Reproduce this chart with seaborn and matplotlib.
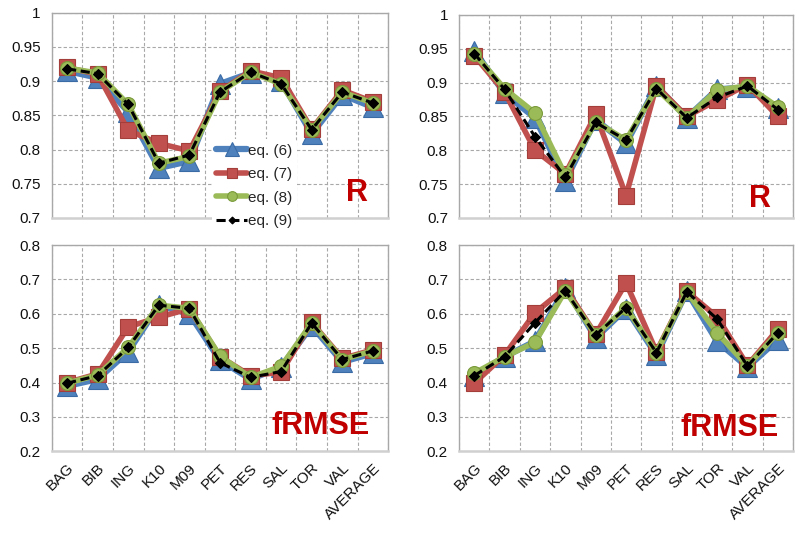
import numpy as np
import pandas as pd
import matplotlib
matplotlib.use("Agg")
import matplotlib.pyplot as plt
import seaborn as sns
from matplotlib.ticker import FuncFormatter, MultipleLocator

sns.set_style("white")
plt.rcParams['font.family'] = ['Liberation Sans', 'DejaVu Sans']

cats = ['BAG', 'BIB', 'ING', 'K10', 'M09', 'PET', 'RES', 'SAL', 'TOR', 'VAL', 'AVERAGE']
series_names = ['eq. (6)', 'eq. (7)', 'eq. (8)', 'eq. (9)']

r_left_eq6 = [0.915, 0.905, 0.855, 0.773, 0.783, 0.896, 0.912, 0.900, 0.823, 0.880, 0.862]
r_left_eq7 = [0.920, 0.910, 0.828, 0.809, 0.798, 0.885, 0.915, 0.905, 0.830, 0.887, 0.870]
r_left_eq8 = [0.919, 0.912, 0.866, 0.780, 0.790, 0.884, 0.913, 0.896, 0.829, 0.884, 0.868]
r_left_eq9 = [0.918, 0.911, 0.866, 0.780, 0.792, 0.884, 0.913, 0.896, 0.829, 0.884, 0.868]

r_right_eq6 = [0.947, 0.884, 0.848, 0.755, 0.845, 0.810, 0.895, 0.848, 0.890, 0.893, 0.862]
r_right_eq7 = [0.940, 0.886, 0.800, 0.765, 0.853, 0.733, 0.895, 0.850, 0.874, 0.897, 0.850]
r_right_eq8 = [0.943, 0.891, 0.855, 0.763, 0.842, 0.815, 0.891, 0.848, 0.889, 0.895, 0.864]
r_right_eq9 = [0.943, 0.890, 0.820, 0.760, 0.841, 0.815, 0.891, 0.848, 0.878, 0.895, 0.860]

f_left_eq6 = [0.390, 0.410, 0.490, 0.625, 0.600, 0.465, 0.410, 0.445, 0.565, 0.460, 0.485]
f_left_eq7 = [0.400, 0.425, 0.562, 0.590, 0.615, 0.475, 0.420, 0.430, 0.575, 0.470, 0.495]
f_left_eq8 = [0.398, 0.422, 0.502, 0.625, 0.616, 0.477, 0.415, 0.447, 0.573, 0.467, 0.492]
f_left_eq9 = [0.398, 0.420, 0.502, 0.625, 0.616, 0.458, 0.415, 0.432, 0.573, 0.467, 0.492]

f_right_eq6 = [0.420, 0.475, 0.520, 0.675, 0.530, 0.615, 0.480, 0.665, 0.520, 0.445, 0.525]
f_right_eq7 = [0.398, 0.480, 0.603, 0.675, 0.540, 0.690, 0.490, 0.665, 0.591, 0.450, 0.555]
f_right_eq8 = [0.427, 0.475, 0.517, 0.667, 0.538, 0.618, 0.487, 0.664, 0.545, 0.448, 0.545]
f_right_eq9 = [0.420, 0.475, 0.574, 0.667, 0.538, 0.618, 0.487, 0.664, 0.585, 0.448, 0.545]

styles = [
    dict(color='#4F81BD', lw=4.5, marker='^', ms=15, mec='#3A6BA5', ls='-'),
    dict(color='#C0504D', lw=4.0, marker='s', ms=11, mec='#A33E3B', ls='-'),
    dict(color='#9BBB59', lw=4.0, marker='o', ms=10, mec='#7A9A3A', ls='-'),
    dict(color='black', lw=2.2, marker='D', ms=5, mec='black', ls=(0, (3, 1.5))),
]

fig = plt.figure(figsize=(7.97, 5.34), dpi=100)
positions = {
    'tl': [0.065, 0.592, 0.422, 0.384],
    'tr': [0.576, 0.592, 0.419, 0.380],
    'bl': [0.065, 0.155, 0.422, 0.386],
    'br': [0.576, 0.155, 0.419, 0.386],
}
panels = [
    ('tl', [r_left_eq6, r_left_eq7, r_left_eq8, r_left_eq9], (0.7, 1.0), 0.05, 'R', (0.908, 0.12)),
    ('tr', [r_right_eq6, r_right_eq7, r_right_eq8, r_right_eq9], (0.7, 1.0), 0.05, 'R', (0.90, 0.095)),
    ('bl', [f_left_eq6, f_left_eq7, f_left_eq8, f_left_eq9], (0.2, 0.8), 0.1, 'fRMSE', (0.80, 0.12)),
    ('br', [f_right_eq6, f_right_eq7, f_right_eq8, f_right_eq9], (0.2, 0.8), 0.1, 'fRMSE', (0.81, 0.112)),
]

handles = None
for key, data, ylim, step, label, tpos in panels:
    ax = fig.add_axes(positions[key])
    for name, vals, st in zip(series_names, data, styles):
        df = pd.DataFrame({'cat': cats, 'val': vals})
        sns.lineplot(data=df, x='cat', y='val', ax=ax, sort=False, label=name,
                     color=st['color'], lw=st['lw'], marker=st['marker'], ms=st['ms'],
                     mec=st['mec'], mew=0.8, linestyle=st['ls'])
    ax.set_xlim(-0.5, len(cats) - 0.5)
    ax.set_ylim(*ylim)
    ax.yaxis.set_major_locator(MultipleLocator(step))
    ax.yaxis.set_major_formatter(FuncFormatter(lambda v, p: f'{v:.2f}'.rstrip('0').rstrip('.')))
    ax.set_xticks(np.arange(-0.5, len(cats), 1), minor=True)
    ax.set_xticks(np.arange(len(cats)))
    ax.set_xticklabels(cats, rotation=45, ha='right', rotation_mode='anchor', fontsize=11,
                       color='#111111')
    ax.tick_params(axis='x', which='major', length=0, pad=7)
    ax.tick_params(axis='x', which='minor', length=5, color='#A0A0A0', direction='out')
    ax.tick_params(axis='y', length=5, color='#A0A0A0', labelsize=11, labelcolor='#111111',
                   direction='out', pad=3)
    ax.grid(True, axis='y', which='major', ls=(0, (3, 2)), color='#A8A8A8', lw=0.8)
    ax.grid(True, axis='x', which='minor', ls=(0, (3, 2)), color='#A8A8A8', lw=0.8)
    ax.set_axisbelow(True)
    for s in ax.spines.values():
        s.set_color('#A8A8A8')
        s.set_linewidth(1.0)
    ax.spines['bottom'].set_color('#D0D0D0')
    ax.spines['bottom'].set_linewidth(1.8)
    ax.set_xlabel('')
    ax.set_ylabel('')
    if key in ('tl', 'tr'):
        ax.set_xticklabels([])
    if handles is None:
        handles, labels = ax.get_legend_handles_labels()
    ax.get_legend().remove()
    ax.text(tpos[0], tpos[1], label, transform=ax.transAxes, ha='center', va='center',
            fontsize=22, fontweight='bold', color='#C00000')

leg = fig.legend(handles, labels, loc='upper left', bbox_to_anchor=(0.256, 0.754),
                 frameon=True, fontsize=11, handlelength=2.0, labelspacing=0.62,
                 handletextpad=0.1, borderpad=0.3, markerscale=0.7)
leg.get_frame().set_facecolor('white')
leg.get_frame().set_edgecolor('none')
leg.get_frame().set_alpha(1)

fig.savefig('out.png', dpi=100)
